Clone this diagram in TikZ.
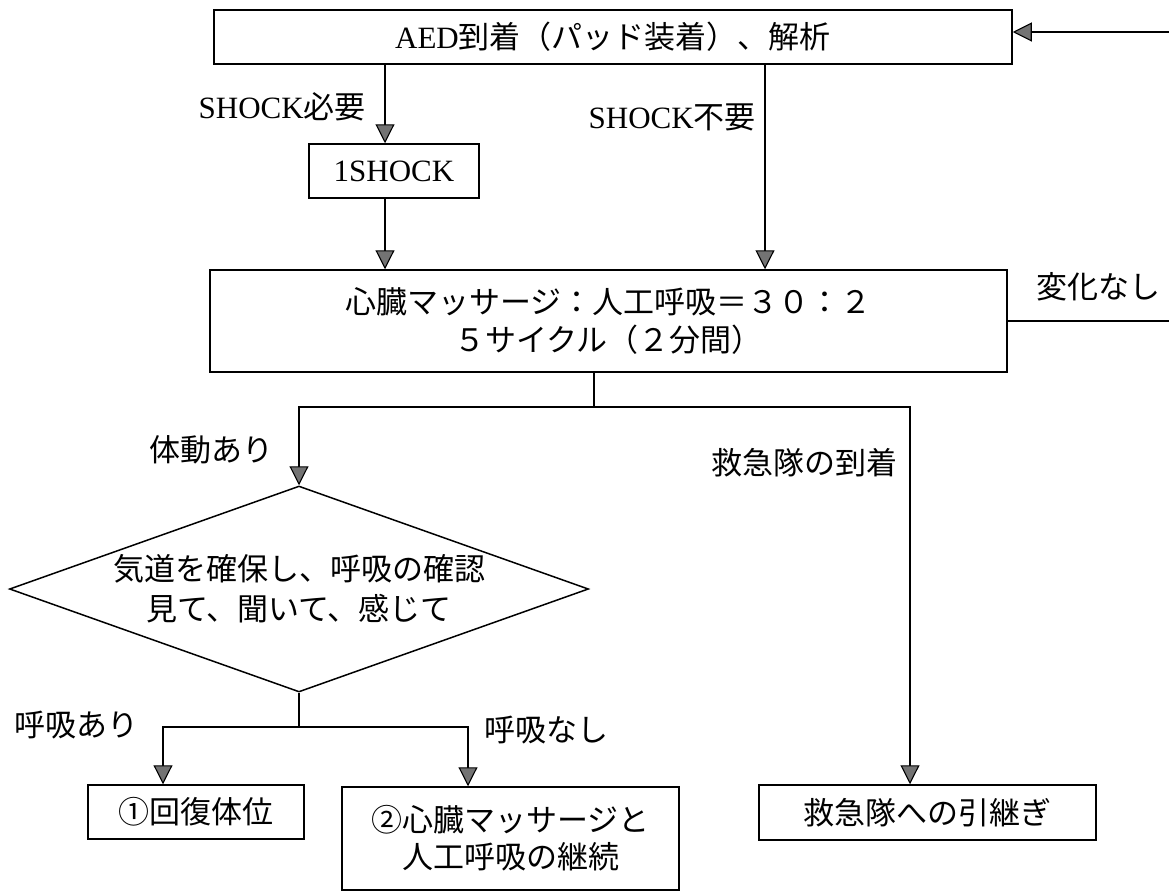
\documentclass[tikz,border=0pt]{standalone}
\usepackage{fontspec}
\setmainfont{Noto Sans CJK JP}
\newfontfamily\lat{Liberation Serif}
\usetikzlibrary{arrows.meta,shapes.geometric}
\begin{document}
\begin{tikzpicture}[x=1pt,y=-1pt,
  every node/.style={font=\fontsize{31}{38}\selectfont, inner sep=0pt},
  box/.style={draw, line width=1.5pt, align=center},
  conn/.style={line width=1.1pt},
  arr/.style={conn, -{Triangle[length=19pt,width=19pt,fill=black!55]}}]
\useasboundingbox (0,0) rectangle (1169,894);
% boxes
\node[box, minimum width=798pt, minimum height=54pt] (top) at (613,37) {{\lat AED}到着（パッド装着）、解析};
\node[box, minimum width=170pt, minimum height=54pt] (s1) at (394,171) {\lat 1SHOCK};
\node[box, minimum width=797pt, minimum height=102pt] (main) at (608.5,321) {心臓マッサージ：人工呼吸＝３０：２\\５サイクル（２分間）};
\node[draw, diamond, aspect=2.81, minimum width=579pt, minimum height=206pt, line width=1.5pt, align=center, font=\fontsize{31}{40}\selectfont] (dia) at (299,589) {気道を確保し、呼吸の確認\\見て、聞いて、感じて};
\node[box, minimum width=216pt, minimum height=54pt] (b1) at (196,812) {①回復体位};
\node[box, minimum width=337pt, minimum height=103pt, font=\fontsize{31}{37}\selectfont] (b2) at (510.5,838.5) {②心臓マッサージと\\人工呼吸の継続};
\node[box, minimum width=337pt, minimum height=55pt] (kyu) at (927.5,812.5) {救急隊への引継ぎ};
% labels
\node[anchor=east] (l1) at (366,107) {{\lat SHOCK}必要};
\node[anchor=east] (l2) at (756,117) {{\lat SHOCK}不要};
\node[anchor=west] (l3) at (1036,287) {変化なし};
\node[anchor=east] (l4) at (274,450) {体動あり};
\node[anchor=east] (l5) at (898,463) {救急隊の到着};
\node[anchor=west] (l6) at (14,725) {呼吸あり};
\node[anchor=west] (l7) at (484,730) {呼吸なし};
% connectors
\coordinate (in) at (1169,32);
\draw[arr] (in) -- (in -| top.east);
\coordinate (xa) at (385,0);
\draw[arr] (xa |- top.south) -- (xa |- s1.north);
\draw[arr] (xa |- s1.south) -- (xa |- main.north);
\coordinate (xb) at (765,0);
\draw[arr] (xb |- top.south) -- (xb |- main.north);
\coordinate (out) at (1169,321);
\draw[conn] (main.east |- out) -- (out);
\coordinate (br) at (594,407);
\coordinate (brL) at (299,407);
\coordinate (brR) at (910,407);
\draw[conn] (main.south -| br) -- (br);
\draw[arr] (br) -- (brL) -- (dia.north);
\draw[arr] (br) -- (brR) -- (brR |- kyu.north);
\coordinate (db) at (299,727);
\coordinate (dL) at (163,727);
\coordinate (dR) at (468,727);
\draw[conn] (dia.south) -- (db);
\draw[arr] (db) -- (dL) -- (dL |- b1.north);
\draw[arr] (db) -- (dR) -- (dR |- b2.north);
\end{tikzpicture}
\end{document}
